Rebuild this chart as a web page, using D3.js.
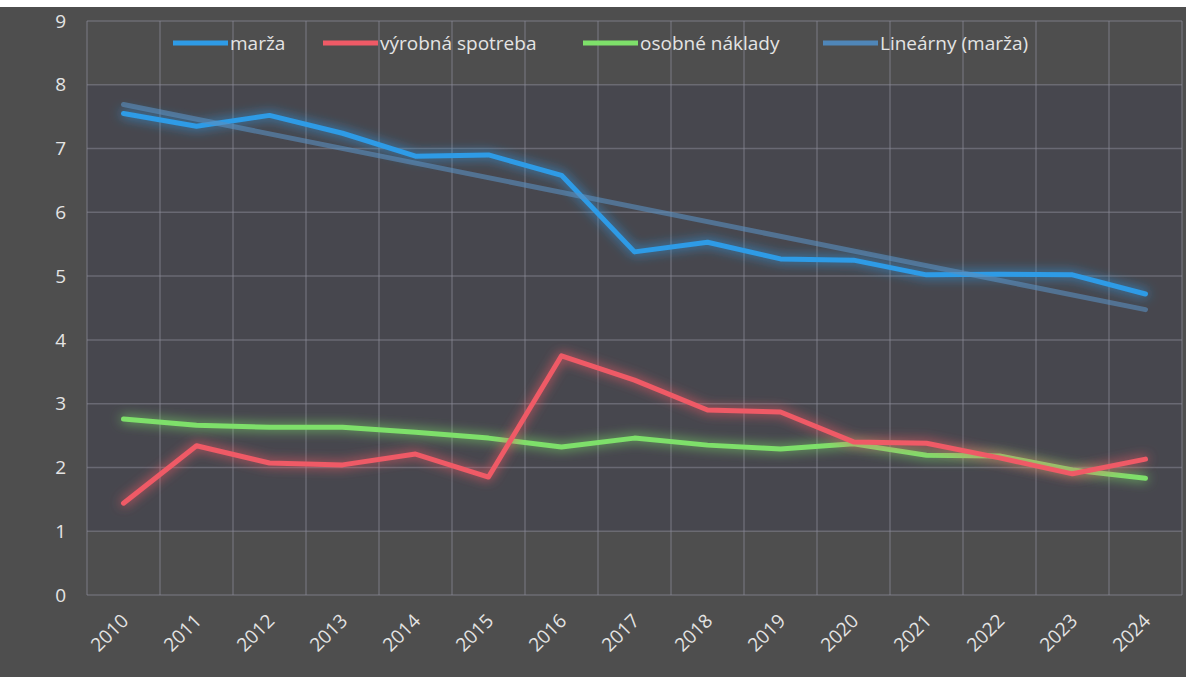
<!doctype html>
<html>

<head>
    <style>
        body {
            margin: 0;
            background: #fff;
        }

        text {
            font-family: "Open Sans", sans-serif;
            fill: #e4e4e4;
        }

        .grid line {
            stroke: #8c8c98;
            stroke-opacity: 0.5;
            stroke-width: 1.5px;
        }

        .series {
            fill: none;
            stroke-width: 5px;
            stroke-linejoin: round;
            stroke-linecap: round;
        }
    </style>
    <script src="https://d3js.org/d3.v7.min.js"></script>
</head>

<body>
    <script>
        const years = ["2010", "2011", "2012", "2013", "2014", "2015", "2016", "2017", "2018", "2019", "2020", "2021", "2022", "2023", "2024"]
        const marza = [7.55, 7.35, 7.52, 7.24, 6.88, 6.9, 6.58, 5.38, 5.53, 5.27, 5.25, 5.02, 5.03, 5.02, 4.72]
        const vyrobnaSpotreba = [1.44, 2.34, 2.07, 2.04, 2.21, 1.85, 3.75, 3.37, 2.9, 2.87, 2.4, 2.38, 2.15, 1.9, 2.13]
        const osobneNaklady = [2.76, 2.66, 2.63, 2.63, 2.55, 2.46, 2.32, 2.46, 2.35, 2.29, 2.37, 2.19, 2.18, 1.96, 1.83]
        const yTicks = [0, 1, 2, 3, 4, 5, 6, 7, 8, 9]
        const legendNames = ["marža", "výrobná spotreba", "osobné náklady", "Lineárny (marža)"]

        const width = 1190, height = 677

        const svg = d3.select("body").append("svg")
            .attr("width", width)
            .attr("height", height)

        // glow behind the lines
        const defs = svg.append("defs")
        const glow = defs.append("filter").attr("id", "glow")
            .attr("x", "-10%").attr("y", "-50%").attr("width", "120%").attr("height", "200%")
        glow.append("feGaussianBlur").attr("in", "SourceGraphic").attr("stdDeviation", 6).attr("result", "b")
        const merge = glow.append("feMerge")
        merge.append("feMergeNode").attr("in", "b")
        merge.append("feMergeNode").attr("in", "SourceGraphic")

        // background
        svg.append("rect").attr("width", width).attr("height", height).attr("fill", "#fff")
        svg.append("rect").attr("x", 0).attr("y", 7).attr("width", 1186).attr("height", height - 7)
            .attr("fill", "#4e4e4e")

        const x = d3.scalePoint().domain(years).range([123.5, 1145.5])
        const step = x.step()
        const y = d3.scaleLinear().domain([0, 9]).range([595, 21])

        // slightly darker plot body
        svg.append("rect")
            .attr("x", x(years[0]) - step / 2).attr("y", y(8))
            .attr("width", step * years.length).attr("height", y(1) - y(8))
            .attr("fill", "#46464f").attr("opacity", 0.8)

        const grid = svg.append("g").attr("class", "grid")
        grid.selectAll(".h").data(yTicks).enter().append("line")
            .attr("x1", x(years[0]) - step / 2).attr("x2", x(years[years.length - 1]) + step / 2)
            .attr("y1", d => y(d)).attr("y2", d => y(d))
        const vlines = d3.range(years.length + 1).map(i => x(years[0]) - step / 2 + i * step)
        grid.selectAll(".v").data(vlines).enter().append("line")
            .attr("x1", d => d).attr("x2", d => d)
            .attr("y1", y(9)).attr("y2", y(0))

        // y labels
        svg.append("g").selectAll("text").data(yTicks).enter().append("text")
            .attr("x", 66).attr("y", d => y(d)).attr("dy", "0.35em")
            .attr("text-anchor", "end").attr("font-size", 19)
            .text(d => d)

        // x labels
        svg.append("g").selectAll("text").data(years).enter().append("text")
            .attr("transform", d => `translate(${x(d) - 4},${612}) rotate(-45)`)
            .attr("text-anchor", "end").attr("dy", "0.75em").attr("font-size", 19)
            .text(d => d)

        // linear trend of marža
        const n = marza.length
        const mx = d3.mean(d3.range(n)), my = d3.mean(marza)
        const slope = d3.sum(marza, (v, i) => (i - mx) * (v - my)) / d3.sum(d3.range(n), i => (i - mx) * (i - mx))
        const trend = [0, n - 1].map(i => ({ year: years[i], v: my + slope * (i - mx) }))

        const line = d3.line().x(d => x(d.year)).y(d => y(d.v))
        const toPts = arr => arr.map((v, i) => ({ year: years[i], v }))

        const series = [
            { data: toPts(osobneNaklady), color: "#7ee06a" },
            { data: toPts(vyrobnaSpotreba), color: "#ef5a66" },
            { data: toPts(marza), color: "#2e9be6" },
        ]

        svg.selectAll(".series").data(series).enter().append("path")
            .attr("class", "series")
            .attr("d", d => line(d.data))
            .attr("stroke", d => d.color)
            .attr("filter", "url(#glow)")

        svg.append("path").attr("class", "series")
            .attr("d", line(trend))
            .attr("stroke", "#5a8fc0").attr("stroke-opacity", 0.6)

        // legend
        const legendColors = ["#2e9be6", "#ef5a66", "#7ee06a", "#4f86b8"]
        const legendX = [173, 323, 583, 823]
        const lg = svg.append("g").selectAll("g").data(legendNames).enter().append("g")
            .attr("transform", (d, i) => `translate(${legendX[i]},43)`)
        lg.append("line").attr("x1", 0).attr("x2", 55).attr("y1", 0).attr("y2", 0)
            .attr("stroke", (d, i) => legendColors[i]).attr("stroke-width", 5)
        lg.append("text").attr("x", 57).attr("dy", "0.35em").attr("font-size", 19)
            .text(d => d)
    </script>
</body>

</html>
